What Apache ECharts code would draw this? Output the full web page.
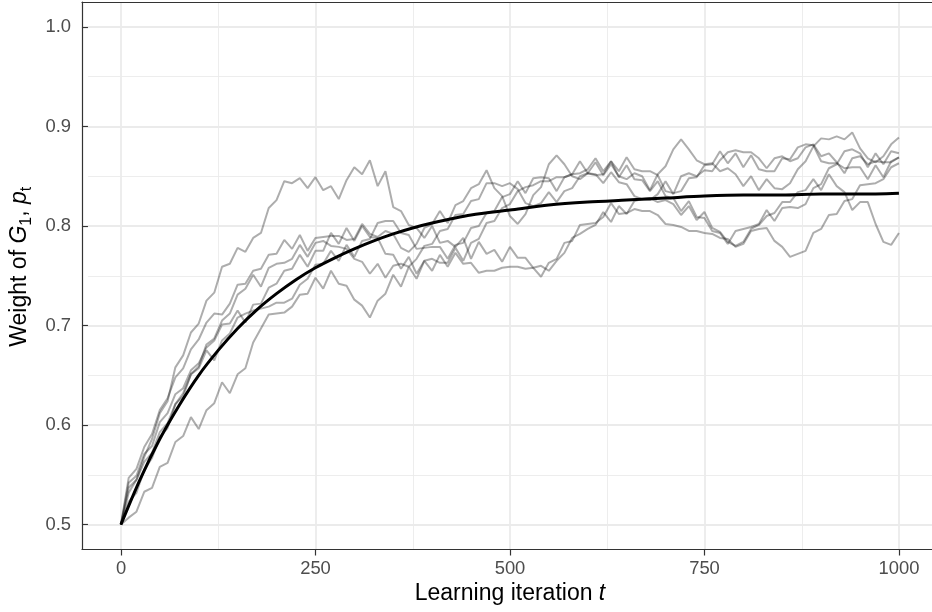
<!DOCTYPE html>
<html><head><meta charset="utf-8">
<script src="https://cdn.jsdelivr.net/npm/echarts@6/dist/echarts.min.js"></script>
<style>html,body{margin:0;padding:0;background:#fff}#c{width:932px;height:612px}</style>
</head><body><div id="c"></div>
<script>
// learning iterations are sampled every tStep
const tStep = 10;
const walk1 = [.500,.532,.545,.568,.586,.612,.624,.658,.670,.693,.702,
 .725,.733,.759,.762,.778,.774,.788,.793,.818,.826,
 .845,.843,.848,.838,.849,.836,.840,.827,.846,.859,
 .852,.866,.840,.855,.819,.815,.801,.798,.788,.800,
 .783,.785,.779,.788,.767,.784,.772,.776,.764,.779,
 .768,.768,.758,.760,.755,.765,.773,.788,.792,.797,
 .801,.814,.804,.820,.812,.825,.827,.826,.832,.845,
 .832,.850,.853,.850,.856,.855,.866,.874,.876,.874,
 .874,.868,.858,.868,.870,.865,.868,.879,.882,.870,
 .873,.864,.853,.868,.870,.862,.865,.864,.864,.869];
const walk2 = [.500,.547,.556,.578,.591,.615,.627,.648,.657,.676,.686,
 .703,.712,.711,.722,.741,.742,.755,.757,.771,.772,
 .786,.777,.791,.775,.788,.789,.790,.790,.786,.787,
 .802,.792,.789,.795,.792,.778,.774,.782,.798,.802,
 .815,.803,.821,.825,.838,.842,.856,.838,.830,.810,
 .802,.812,.831,.839,.862,.871,.862,.850,.847,.853,
 .864,.851,.862,.850,.847,.853,.850,.836,.852,.860,
 .877,.887,.877,.866,.862,.863,.855,.858,.852,.840,
 .850,.836,.847,.838,.837,.843,.857,.865,.880,.888,
 .887,.890,.887,.894,.878,.868,.864,.870,.882,.889];
const walk3 = [.500,.523,.532,.555,.567,.588,.597,.621,.629,.651,.659,
 .681,.687,.705,.712,.731,.737,.751,.739,.758,.762,
 .763,.767,.781,.769,.783,.785,.780,.779,.777,.767,
 .764,.752,.762,.748,.760,.762,.759,.767,.780,.782,
 .795,.797,.811,.812,.825,.827,.843,.843,.840,.843,
 .837,.823,.820,.823,.834,.824,.835,.838,.850,.853,
 .852,.843,.854,.844,.842,.830,.827,.828,.824,.826,
 .822,.811,.820,.806,.814,.798,.794,.784,.780,.784,
 .797,.801,.810,.813,.824,.824,.834,.836,.847,.836,
 .852,.840,.834,.816,.824,.824,.802,.784,.781,.793];
const walk4 = [.500,.507,.513,.533,.537,.558,.562,.583,.589,.608,.596,
 .615,.622,.643,.632,.651,.657,.683,.697,.711,.712,
 .713,.719,.731,.732,.748,.737,.755,.742,.740,.726,
 .720,.708,.725,.732,.751,.739,.759,.747,.765,.755,
 .771,.759,.773,.762,.763,.753,.755,.755,.758,.759,
 .759,.757,.758,.749,.763,.767,.783,.785,.801,.802,
 .803,.809,.823,.812,.813,.817,.815,.815,.811,.802,
 .801,.799,.795,.795,.793,.792,.788,.787,.779,.782,
 .795,.797,.798,.785,.779,.769,.772,.775,.793,.797,
 .811,.812,.825,.827,.841,.842,.843,.847,.859,.863];
const walk5 = [.500,.542,.549,.571,.579,.603,.612,.631,.637,.655,.662,
 .678,.685,.701,.702,.715,.703,.721,.722,.738,.742,
 .755,.757,.771,.759,.775,.775,.793,.782,.798,.785,
 .800,.789,.788,.772,.771,.757,.769,.752,.765,.767,
 .763,.763,.778,.765,.783,.787,.803,.805,.818,.822,
 .835,.839,.841,.845,.845,.849,.849,.852,.853,.857,
 .868,.855,.865,.849,.861,.847,.846,.835,.845,.830,
 .828,.815,.825,.809,.808,.795,.793,.782,.795,.797,
 .799,.802,.816,.805,.818,.819,.818,.822,.838,.842,
 .858,.862,.875,.877,.873,.859,.873,.862,.875,.873];
const walk6 = [.500,.537,.545,.563,.572,.593,.602,.621,.632,.651,.657,
 .675,.665,.685,.692,.708,.712,.715,.717,.719,.723,
 .723,.727,.741,.747,.761,.762,.775,.765,.781,.769,
 .785,.787,.803,.805,.805,.793,.791,.777,.778,.779,
 .779,.767,.781,.783,.798,.800,.813,.815,.829,.832,
 .845,.833,.848,.849,.848,.835,.849,.852,.865,.853,
 .851,.852,.865,.855,.869,.857,.855,.855,.851,.835,
 .833,.835,.848,.849,.861,.862,.875,.863,.873,.859,
 .871,.857,.855,.855,.868,.867,.879,.882,.881,.865,
 .863,.863,.858,.859,.859,.847,.861,.849,.865,.869];
// expected weight curve
const curveT = [0,25,50,75,100,125,150,175,200,225,250,275,300,325,350,375,400,450,500,550,600,650,700,750,800,850,900,950,1000];
const curveV = [0.500,0.546,0.586,0.620,0.650,0.675,0.697,0.716,0.732,0.746,0.758,0.768,0.777,0.785,0.792,0.798,0.803,0.811,0.816,0.821,0.824,0.826,0.828,0.830,0.831,0.831,0.832,0.832,0.833];
const xTicks = [0, 250, 500, 750, 1000];
const yTicks = [0.5, 0.6, 0.7, 0.8, 0.9, 1.0];

const FONT = '"Liberation Sans", Arial, Helvetica, sans-serif';
const walks = [walk1, walk2, walk3, walk4, walk5, walk6];
const chart = echarts.init(document.getElementById('c'), null, {renderer: 'canvas'});

const P = {left: 82, top: 2, width: 850, height: 547.5};
const X0 = 121, XW = 778, Y1 = 26.9, YH = 497.7;

const series = walks.map(w => ({
  type: 'line', xAxisIndex: 0, yAxisIndex: 0,
  data: w.map((v, i) => [i * tStep, v]),
  showSymbol: false, silent: true, animation: false,
  lineStyle: {color: 'rgba(0,0,0,0.32)', width: 2}
}));
series.push({
  type: 'line', xAxisIndex: 0, yAxisIndex: 0,
  data: curveT.map((t, i) => [t, curveV[i]]),
  showSymbol: false, silent: true, animation: false, smooth: 0.3,
  lineStyle: {color: '#000', width: 3}, z: 5
});

const gridLine = {show: true, lineStyle: {color: '#EBEBEB', width: 1.8}};
const minorLine = {show: true, lineStyle: {color: '#EBEBEB', width: 0.9}};
const border = {show: true, onZero: false, lineStyle: {color: '#333333', width: 1.2}};
const frameAxis = {axisLine: border, axisTick: {show: false}, axisLabel: {show: false}, splitLine: {show: false}, z: 4};

chart.setOption({
  animation: false,
  backgroundColor: '#fff',
  grid: [
    {left: P.left, top: P.top, width: P.width, height: P.height},
    {left: X0, top: P.top, width: XW, height: P.height},
    {left: P.left, top: Y1, width: P.width, height: YH}
  ],
  xAxis: [
    Object.assign({gridIndex: 0, type: 'value', min: -50, max: 1042.5, position: 'bottom'}, frameAxis),
    {gridIndex: 1, type: 'value', min: xTicks[0], max: xTicks[xTicks.length - 1], interval: 250,
      axisLine: {show: false},
      axisTick: {show: true, length: 6, lineStyle: {color: '#333333', width: 1.2}},
      minorTick: {show: false, splitNumber: 2},
      axisLabel: {fontSize: 18.4, color: '#4D4D4D', margin: 10, fontFamily: FONT, formatter: v => String(v)},
      splitLine: gridLine, minorSplitLine: minorLine,
      name: '{n|Learning iteration }{i|t}', nameLocation: 'middle', nameGap: 32,
      nameTextStyle: {fontFamily: FONT, rich: {
        n: {fontSize: 23, color: '#000', fontFamily: FONT},
        i: {fontSize: 23, color: '#000', fontFamily: FONT, fontStyle: 'italic'}
      }}
    },
    {gridIndex: 2, type: 'value', min: 0, max: 1, show: false},
    Object.assign({gridIndex: 0, type: 'value', min: -50, max: 1042.5, position: 'top'}, frameAxis)
  ],
  yAxis: [
    Object.assign({gridIndex: 0, type: 'value', min: 0.475, max: 1.025, position: 'left'}, frameAxis),
    {gridIndex: 1, type: 'value', min: 0, max: 1, show: false},
    {gridIndex: 2, type: 'value', min: yTicks[0], max: yTicks[yTicks.length - 1], interval: 0.1,
      axisLine: {show: false},
      axisTick: {show: true, length: 6, lineStyle: {color: '#333333', width: 1.2}},
      minorTick: {show: false, splitNumber: 2},
      axisLabel: {fontSize: 18.4, color: '#4D4D4D', margin: 17, fontFamily: FONT, formatter: v => v.toFixed(1)},
      splitLine: gridLine, minorSplitLine: minorLine,
      name: '{n|Weight of }{i|G}{s|1}{n|, }{i|p}{s|t}', nameLocation: 'middle', nameGap: 52,
      nameTextStyle: {fontFamily: FONT, padding: [0, 0, 0, 18], rich: {
        n: {fontSize: 23, color: '#000', fontFamily: FONT, lineHeight: 30},
        i: {fontSize: 23, color: '#000', fontFamily: FONT, fontStyle: 'italic', lineHeight: 30},
        s: {fontSize: 16, color: '#000', fontFamily: FONT, lineHeight: 16, verticalAlign: 'bottom'}
      }}
    }
  ],
  series: series
});
</script></body></html>
